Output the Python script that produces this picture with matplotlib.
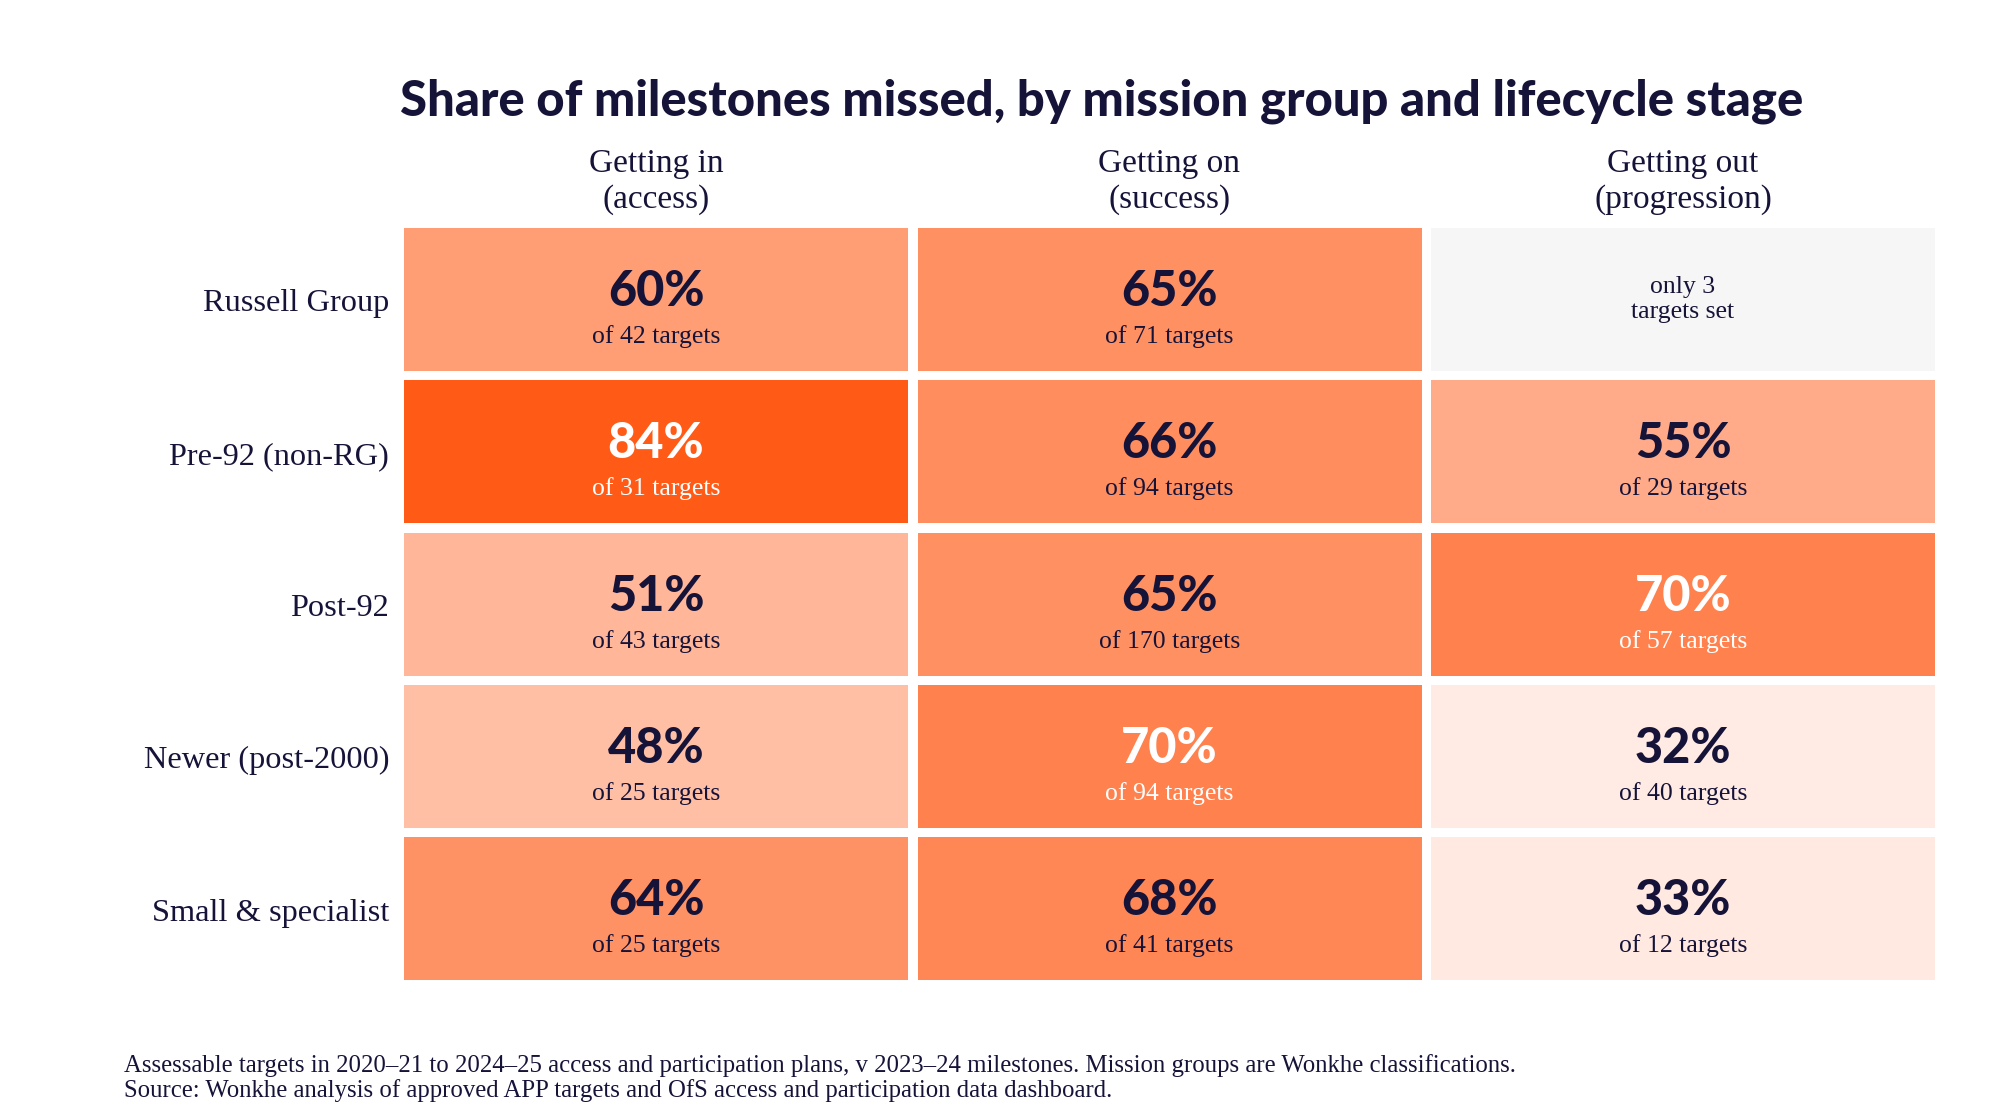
import numpy as np
import matplotlib
matplotlib.use('Agg')
import matplotlib.pyplot as plt
from matplotlib.colors import LinearSegmentedColormap, Normalize
from matplotlib.patches import Rectangle

# data
groups = ['Russell Group', 'Pre-92 (non-RG)', 'Post-92', 'Newer (post-2000)', 'Small & specialist']
stages = ['Getting in\n(access)', 'Getting on\n(success)', 'Getting out\n(progression)']
missed = np.array([
    [60, 65, np.nan],
    [84, 66, 55],
    [51, 65, 70],
    [48, 70, 32],
    [64, 68, 33],
])
targets = [
    [42, 71, 3],
    [31, 94, 29],
    [43, 170, 57],
    [25, 94, 40],
    [25, 41, 12],
]

title = 'Share of milestones missed, by mission group and lifecycle stage'
note = ('Assessable targets in 2020\u201321 to 2024\u201325 access and participation plans, '
        'v 2023\u201324 milestones. Mission groups are Wonkhe classifications.\n'
        'Source: Wonkhe analysis of approved APP targets and OfS access and participation data dashboard.')

ink = '#161339'
serif = 'Liberation Serif'
sans = 'Lato'

cmap = LinearSegmentedColormap.from_list('wonk', ['#ffebe3', '#ff5b17'])
norm = Normalize(vmin=32, vmax=84)

# layout in pixels
x0, y0 = 404, 228
cw, ch = 504, 143
gx, gy = 9.5, 9.3

fig = plt.figure(figsize=(20, 11.2), dpi=100)
ax = fig.add_axes([0, 0, 1, 1])
ax.set_xlim(0, 2000)
ax.set_ylim(1120, 0)
ax.axis('off')

ax.text(x0 - 4, 115, title, fontsize=35.3, fontweight='black', family=sans,
        color=ink, ha='left', va='baseline')

for j, stage in enumerate(stages):
    cx = x0 + j * (cw + gx) + cw / 2
    top, bottom = stage.split('\n')
    ax.text(cx, 172, top, fontsize=24, family=serif, color=ink, ha='center', va='baseline')
    ax.text(cx, 208, bottom, fontsize=24, family=serif, color=ink, ha='center', va='baseline')

for i, g in enumerate(groups):
    ty = y0 + i * (ch + gy)
    ax.text(x0 - 15, ty + ch / 2 + 12, g, fontsize=23.3, family=serif, color=ink,
            ha='right', va='baseline')
    for j in range(len(stages)):
        tx = x0 + j * (cw + gx)
        v = missed[i, j]
        cx = tx + cw / 2
        if np.isnan(v):
            ax.add_patch(Rectangle((tx, ty), cw, ch, facecolor='#f6f6f6', edgecolor='none'))
            ax.text(cx, ty + 65, 'only %d' % targets[i][j], fontsize=18.5, family=serif,
                    color=ink, ha='center', va='baseline')
            ax.text(cx, ty + 90, 'targets set', fontsize=18.5, family=serif,
                    color=ink, ha='center', va='baseline')
            continue
        ax.add_patch(Rectangle((tx, ty), cw, ch, facecolor=cmap(norm(v)), edgecolor='none'))
        tc = 'white' if v >= 70 else ink
        ax.text(cx, ty + 78, '%d%%' % v, fontsize=35, fontweight='black', family=sans,
                color=tc, ha='center', va='baseline')
        ax.text(cx, ty + 115, 'of %d targets' % targets[i][j], fontsize=18.5, family=serif,
                color=tc, ha='center', va='baseline')

ax.text(124, 1072, note.split('\n')[0], fontsize=17.8, family=serif, color=ink,
        ha='left', va='baseline')
ax.text(124, 1097, note.split('\n')[1], fontsize=17.8, family=serif, color=ink,
        ha='left', va='baseline')

fig.savefig('out.png', dpi=100, facecolor='white')
